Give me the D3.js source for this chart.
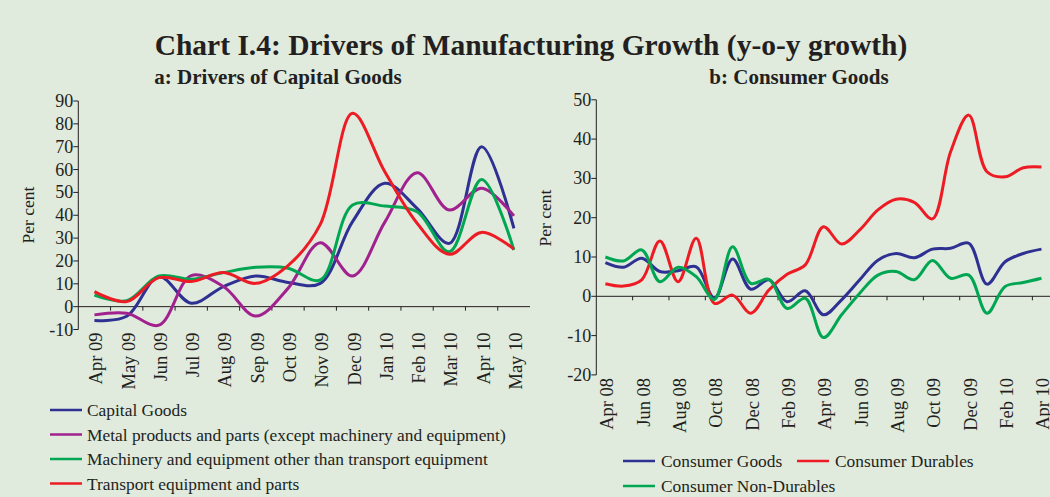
<!DOCTYPE html>
<html>
<head>
<meta charset="utf-8">
<script src="https://cdn.jsdelivr.net/npm/d3@7"></script>
<style>
  body { margin: 0; background: #e0eadd; }
  svg { display: block; font-family: "Liberation Serif", "Times New Roman", serif; }
</style>
</head>
<body>
<svg id="chart" width="1050" height="497"></svg>
<script>
// ---- data: panel a (Apr 09 - May 10) ----
const monthsA = ["Apr 09", "May 09", "Jun 09", "Jul 09", "Aug 09", "Sep 09", "Oct 09",
  "Nov 09", "Dec 09", "Jan 10", "Feb 10", "Mar 10", "Apr 10", "May 10"]
const capitalGoods = [-6.1, -4.2, 13.1, 1.5, 8.8, 13.4, 10.6, 10.2, 37.2, 54, 43, 27.7, 70, 34.3]
const metalProducts = [-3.6, -2.9, -8.1, 13.6, 8.8, -4.1, 8, 28, 13.4, 37, 58.6, 42.3, 51.8, 39.7]
const machinery = [5.1, 2.6, 13.4, 12, 14.9, 17.2, 16.8, 11.7, 44.5, 44, 41.6, 24, 55.7, 24.8]
const transport = [6.6, 2.2, 12.7, 11, 14.9, 10.2, 18, 36, 84.6, 59, 36.5, 22.9, 32.5, 25.2]
const ticksA = [-10, 0, 10, 20, 30, 40, 50, 60, 70, 80, 90]

// ---- data: panel b (Apr 08 - Apr 10) ----
const monthsB = ["Apr 08", "May 08", "Jun 08", "Jul 08", "Aug 08", "Sep 08", "Oct 08", "Nov 08",
  "Dec 08", "Jan 09", "Feb 09", "Mar 09", "Apr 09", "May 09", "Jun 09", "Jul 09", "Aug 09",
  "Sep 09", "Oct 09", "Nov 09", "Dec 09", "Jan 10", "Feb 10", "Mar 10", "Apr 10"]
const consumerGoods = [8.6, 7.4, 9.7, 6.3, 6.5, 7.5, -0.5, 9.5, 1.8, 4.2, -1.4, 1.4, -4.7,
  -0.9, 4.2, 9.2, 10.9, 9.8, 12, 12.2, 13.5, 3.1, 8.8, 10.9, 12]
const consumerDurables = [3.2, 2.6, 4.2, 14.1, 3.7, 14.8, -1.8, 0.3, -4.3, 1.6, 5.6, 8, 17.7,
  13.3, 16.9, 22, 24.7, 23.9, 19.7, 36.8, 46.1, 31.7, 30.4, 32.7, 32.9]
const consumerNonDurables = [10, 9, 11.8, 3.7, 7.4, 5, -0.8, 12.6, 3.3, 4.3, -3.1, -0.5, -10.5,
  -4.7, 0.8, 5.4, 6.3, 4.2, 9.1, 4.6, 5.4, -4.3, 2.5, 3.5, 4.6]
const ticksB = [-20, -10, 0, 10, 20, 30, 40, 50]

const colors = { blue: "#2e3192", purple: "#a1228f", green: "#00a651", red: "#ed1c24" }

const svg = d3.select("#chart")
const axisColor = "#231f20"

svg.append("text")
  .attr("x", 531).attr("y", 55)
  .attr("text-anchor", "middle")
  .attr("font-weight", "bold")
  .attr("font-size", 29.5)
  .attr("fill", axisColor)
  .text("Chart I.4: Drivers of Manufacturing Growth (y-o-y growth)")

function panel({ title, titleX, months, series, ticks, x0, x1, yTop, yBottom, labelEvery, tickEvery, ylabelX, ylabelY }) {
  const g = svg.append("g")
  const x = d3.scaleBand().domain(months).range([x0, x1]).padding(0)
  const y = d3.scaleLinear().domain([ticks[0], ticks[ticks.length - 1]]).range([yBottom, yTop])

  g.append("text")
    .attr("x", titleX).attr("y", 84)
    .attr("text-anchor", "middle")
    .attr("font-weight", "bold")
    .attr("font-size", 21)
    .attr("fill", axisColor)
    .text(title)

  // y axis
  g.append("line")
    .attr("x1", x0).attr("x2", x0)
    .attr("y1", y(ticks[0])).attr("y2", y(ticks[ticks.length - 1]))
    .attr("stroke", axisColor)
  ticks.forEach(t => {
    g.append("line")
      .attr("x1", x0 - 5).attr("x2", x0)
      .attr("y1", y(t)).attr("y2", y(t))
      .attr("stroke", axisColor)
    g.append("text")
      .attr("x", x0 - 5).attr("y", y(t))
      .attr("text-anchor", "end")
      .attr("dominant-baseline", "central")
      .attr("font-size", 18)
      .attr("fill", axisColor)
      .text(t)
  })

  g.append("text")
    .attr("transform", `translate(${ylabelX},${ylabelY}) rotate(-90)`)
    .attr("text-anchor", "middle")
    .attr("font-size", 17.5)
    .attr("fill", axisColor)
    .text("Per cent")

  // x axis along zero
  g.append("line")
    .attr("x1", x0).attr("x2", x1)
    .attr("y1", y(0)).attr("y2", y(0))
    .attr("stroke", axisColor)
  months.forEach((m, i) => {
    if (i > 0 && i % tickEvery === 0) {
      g.append("line")
        .attr("x1", x(m)).attr("x2", x(m))
        .attr("y1", y(0)).attr("y2", y(0) + 4)
        .attr("stroke", axisColor)
    }
    if (i % labelEvery === 0) {
      const cx = x(m) + x.bandwidth() / 2 + 2
      g.append("text")
        .attr("transform", `translate(${cx},${yBottom + 3}) rotate(-90)`)
        .attr("text-anchor", "end")
        .attr("dominant-baseline", "central")
        .attr("font-size", 18.5)
        .attr("fill", axisColor)
        .text(m)
    }
  })

  const line = d3.line()
    .x((d, i) => x(months[i]) + x.bandwidth() / 2)
    .y(d => y(d))
    .curve(d3.curveCatmullRom.alpha(0.5))

  series.forEach(s => {
    g.append("path")
      .datum(s.values)
      .attr("d", line)
      .attr("fill", "none")
      .attr("stroke", s.color)
      .attr("stroke-width", 3)
      .attr("stroke-linejoin", "round")
  })
}

panel({
  title: "a: Drivers of Capital Goods", titleX: 278,
  months: monthsA,
  series: [
    { values: capitalGoods, color: colors.blue },
    { values: metalProducts, color: colors.purple },
    { values: machinery, color: colors.green },
    { values: transport, color: colors.red }
  ],
  ticks: ticksA, x0: 78.3, x1: 530, yTop: 101, yBottom: 329.5,
  labelEvery: 1, tickEvery: 1, ylabelX: 34, ylabelY: 215
})

panel({
  title: "b: Consumer Goods", titleX: 799,
  months: monthsB,
  series: [
    { values: consumerGoods, color: colors.blue },
    { values: consumerDurables, color: colors.red },
    { values: consumerNonDurables, color: colors.green }
  ],
  ticks: ticksB, x0: 596.3, x1: 596.3 + 18.17 * 25, yTop: 99.8, yBottom: 374.9,
  labelEvery: 2, tickEvery: 2, ylabelX: 551, ylabelY: 218
})

// legends
const legendA = [
  { name: "Capital Goods", color: colors.blue },
  { name: "Metal products and parts (except machinery and equipment)", color: colors.purple },
  { name: "Machinery and equipment other than transport equipment", color: colors.green },
  { name: "Transport equipment and parts", color: colors.red }
]
legendA.forEach((d, i) => {
  const ly = 410 + i * 24.5
  svg.append("line")
    .attr("x1", 50).attr("x2", 82).attr("y1", ly).attr("y2", ly)
    .attr("stroke", d.color).attr("stroke-width", 2.5)
  svg.append("text")
    .attr("x", 87).attr("y", ly)
    .attr("dominant-baseline", "central")
    .attr("font-size", 17.4)
    .attr("fill", axisColor)
    .text(d.name)
})

const legendB = [
  { name: "Consumer Goods", color: colors.blue, lx: 623, ly: 461 },
  { name: "Consumer Durables", color: colors.red, lx: 797, ly: 461 },
  { name: "Consumer Non-Durables", color: colors.green, lx: 623, ly: 486 }
]
legendB.forEach(d => {
  svg.append("line")
    .attr("x1", d.lx).attr("x2", d.lx + 32).attr("y1", d.ly).attr("y2", d.ly)
    .attr("stroke", d.color).attr("stroke-width", 2.5)
  svg.append("text")
    .attr("x", d.lx + 38).attr("y", d.ly)
    .attr("dominant-baseline", "central")
    .attr("font-size", 17.4)
    .attr("fill", axisColor)
    .text(d.name)
})
</script>
</body>
</html>
